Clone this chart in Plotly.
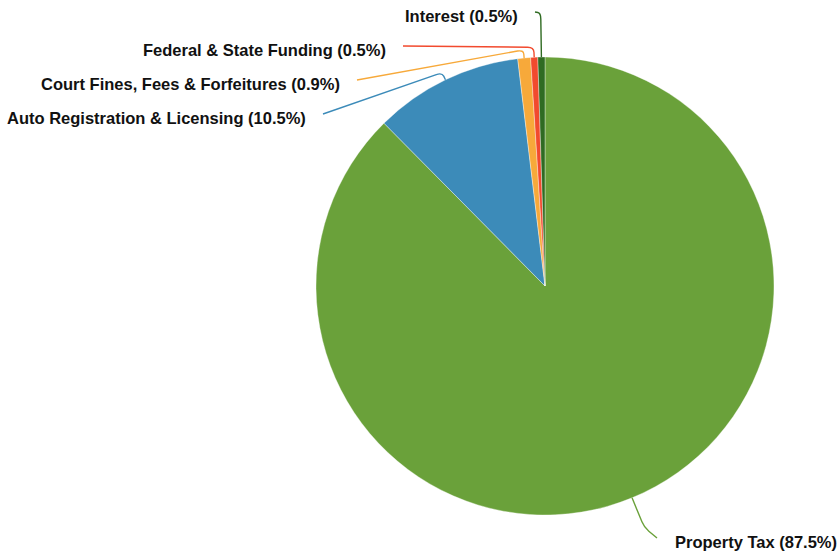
import math
import plotly.graph_objects as go

# Revenue sources and their shares of total revenue (%)
sources = [
    "Property Tax",
    "Auto Registration & Licensing",
    "Court Fines, Fees & Forfeitures",
    "Federal & State Funding",
    "Interest",
]
shares = [87.5, 10.5, 0.9, 0.5, 0.5]
colors = ["#6aa13a", "#3c8bb9", "#f7a93a", "#f24a2e", "#2f6b22"]

# Label placement (pixels): end of the leader line, radius where it bends,
# and which side the text sits on.
W, H = 837, 556
CX, CY, R = 545.0, 286.0, 229.0
label_end = [(657, 538), (323, 114), (357, 80), (403, 46), (535, 12)]
bend_radius = [R + 32, R + 8, R + 8, R + 10, R + 44]
text_side = ["right", "left", "left", "left", "left"]


def to_paper(x, y):
    return x / W, 1 - y / H


total = sum(shares)
shapes, annotations = [], []
cum = 0.0
for name, val, col, end, rb, side in zip(sources, shares, colors, label_end,
                                         bend_radius, text_side):
    mid = (cum + val / 2) / total * 2 * math.pi  # clockwise from 12 o'clock
    cum += val
    ux, uy = math.sin(mid), -math.cos(mid)
    p0 = (CX + R * ux, CY + R * uy)
    p1 = (CX + rb * ux, CY + rb * uy)
    # rounded corner at the bend
    c = 6.0
    d01 = math.hypot(p1[0] - p0[0], p1[1] - p0[1])
    d1e = math.hypot(end[0] - p1[0], end[1] - p1[1])
    ca = min(c, d01 * 0.5)
    cb = min(c, d1e * 0.5)
    pa = (p1[0] - (p1[0] - p0[0]) / d01 * ca, p1[1] - (p1[1] - p0[1]) / d01 * ca)
    pb = (p1[0] + (end[0] - p1[0]) / d1e * cb, p1[1] + (end[1] - p1[1]) / d1e * cb)
    pts = [to_paper(*p) for p in (p0, pa, p1, pb, end)]
    path = ("M {0[0]:.5f},{0[1]:.5f} L {1[0]:.5f},{1[1]:.5f} "
            "Q {2[0]:.5f},{2[1]:.5f} {3[0]:.5f},{3[1]:.5f} "
            "L {4[0]:.5f},{4[1]:.5f}").format(*pts)
    shapes.append(dict(type="path", xref="paper", yref="paper", path=path,
                       line=dict(color=col, width=1.4), layer="above"))
    tx = end[0] + (16 if side == "right" else -15)
    ax, ay = to_paper(tx, end[1] + 4)
    annotations.append(dict(
        x=ax, y=ay, xref="paper", yref="paper", showarrow=False,
        xanchor="left" if side == "right" else "right", yanchor="middle",
        text=f"<b>{name} ({val}%)</b>",
        font=dict(family="Liberation Sans, Arial, sans-serif", size=16.5,
                  color="#111111"),
    ))

fig = go.Figure(go.Pie(
    labels=sources,
    values=shares,
    sort=False,
    direction="clockwise",
    rotation=0,
    marker=dict(colors=colors, line=dict(color="rgba(255,255,255,0.6)", width=0.6)),
    textinfo="none",
    hoverinfo="label+percent",
    domain=dict(x=[(CX - R) / W, (CX + R) / W], y=[1 - (CY + R) / H, 1 - (CY - R) / H]),
    showlegend=False,
))

fig.update_layout(
    width=W, height=H,
    margin=dict(l=0, r=0, t=0, b=0),
    paper_bgcolor="white",
    plot_bgcolor="white",
    shapes=shapes,
    annotations=annotations,
)

fig.write_html("out.html")
